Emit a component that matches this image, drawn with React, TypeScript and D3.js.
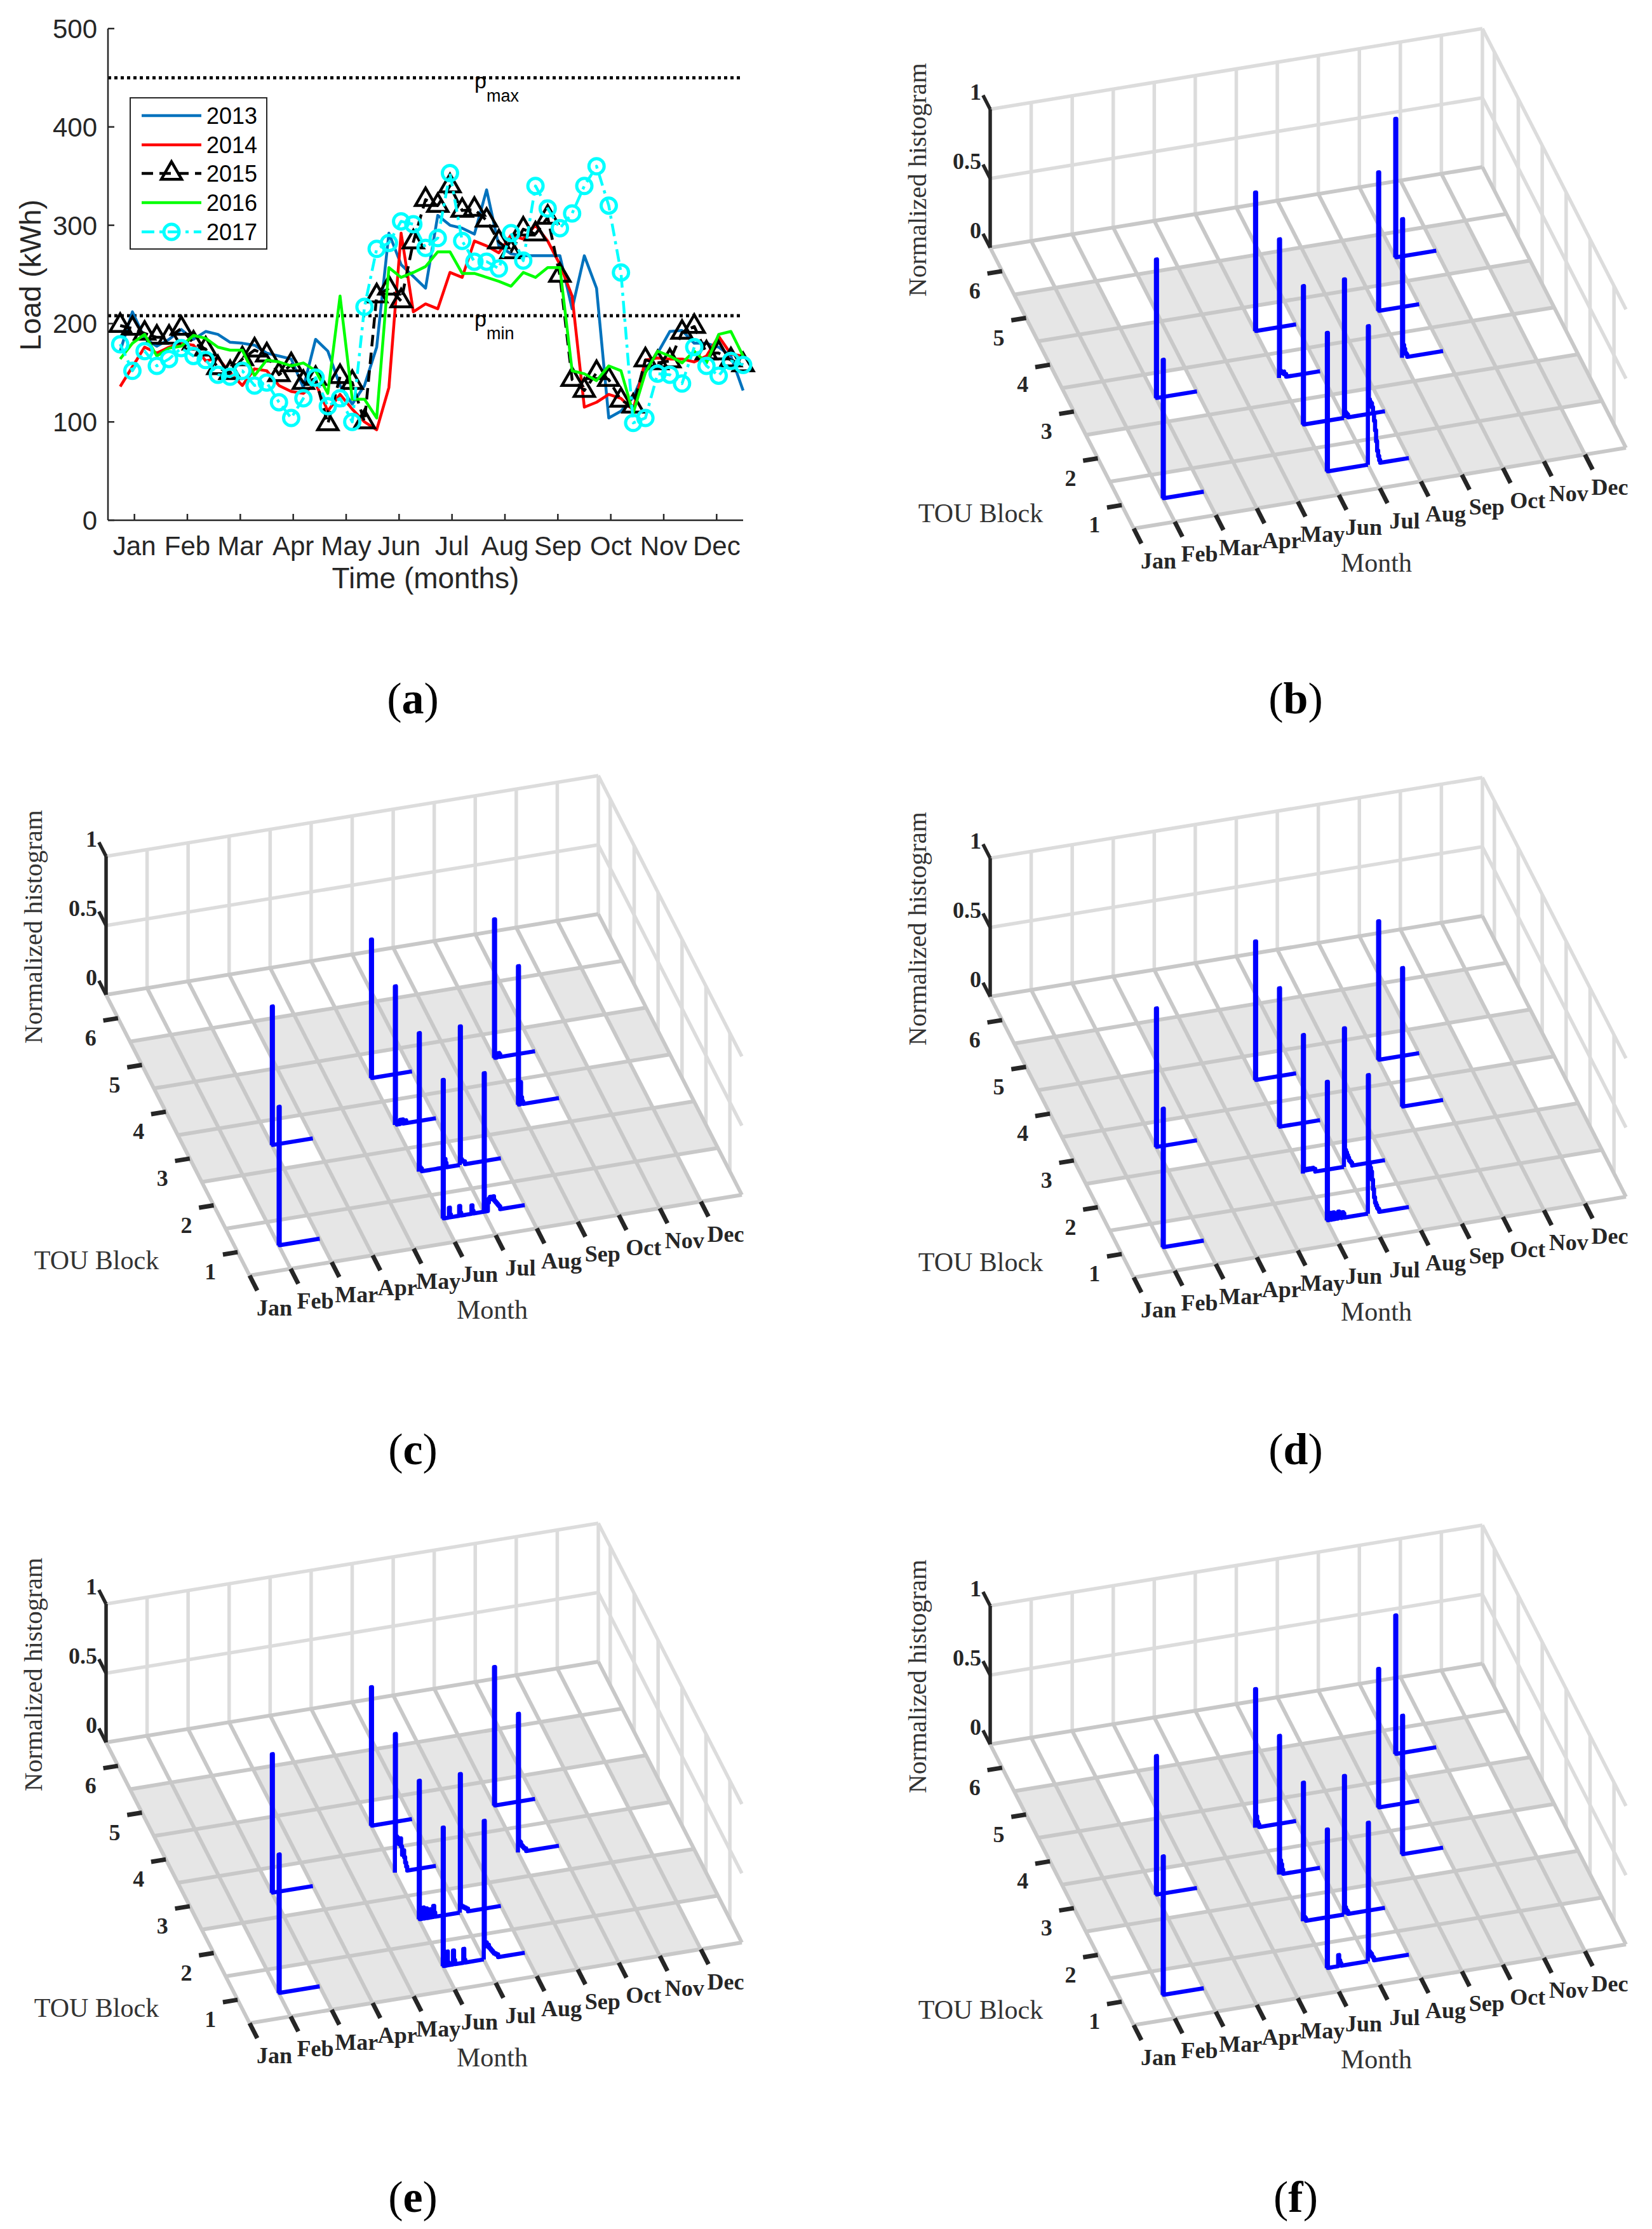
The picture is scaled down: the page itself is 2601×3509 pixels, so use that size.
import React, { useEffect } from 'react';
import * as d3 from 'd3';

// ---------- panel (a): weekly load per year (kWh) ----------
const MONTHS = ['Jan', 'Feb', 'Mar', 'Apr', 'May', 'Jun', 'Jul', 'Aug', 'Sep', 'Oct', 'Nov', 'Dec'];
const LOAD_TICKS = [0, 100, 200, 300, 400, 500];
const P_MAX = 450;
const P_MIN = 208;

const load2013 = [172, 212, 185, 177, 184, 194, 184, 192, 189, 181, 180, 178, 170, 167, 164, 135, 184, 172, 137, 118, 137, 176, 292, 260, 248, 236, 310, 300, 297, 291, 336, 279, 271, 269, 269, 269, 269, 215, 269, 236, 104, 111, 125, 154, 170, 192, 193, 180, 180, 176, 167, 132];
const load2014 = [136, 156, 176, 170, 176, 180, 178, 162, 165, 150, 137, 154, 152, 137, 131, 129, 139, 111, 128, 113, 100, 92, 135, 292, 212, 220, 215, 252, 247, 284, 279, 272, 290, 286, 300, 284, 260, 228, 115, 120, 128, 124, 112, 163, 165, 164, 164, 161, 167, 187, 169, 167];
const load2015 = [198, 195, 190, 186, 186, 195, 180, 174, 155, 150, 164, 173, 168, 148, 158, 140, 144, 98, 146, 140, 100, 228, 236, 223, 283, 326, 320, 340, 315, 316, 305, 283, 273, 296, 291, 308, 249, 143, 132, 150, 143, 122, 116, 163, 160, 162, 191, 197, 170, 170, 163, 158];
const load2016 = [164, 180, 189, 167, 175, 177, 188, 185, 176, 173, 173, 147, 163, 161, 157, 160, 152, 129, 228, 123, 123, 104, 257, 247, 252, 258, 273, 273, 251, 251, 247, 243, 238, 252, 247, 257, 257, 152, 149, 142, 157, 152, 109, 150, 172, 167, 160, 172, 160, 189, 192, 167];
const load2017 = [179, 152, 172, 157, 164, 175, 167, 163, 148, 146, 152, 137, 140, 120, 104, 124, 145, 116, 124, 100, 217, 276, 282, 304, 301, 277, 287, 353, 284, 263, 263, 256, 292, 264, 340, 317, 297, 312, 340, 360, 320, 252, 99, 104, 149, 148, 139, 176, 157, 147, 162, 158];

const SERIES = [
  { name: '2013', values: load2013, color: '#0072BD', dash: null, marker: null },
  { name: '2014', values: load2014, color: '#FF0000', dash: null, marker: null },
  { name: '2015', values: load2015, color: '#000000', dash: '18 10', marker: 'triangle' },
  { name: '2016', values: load2016, color: '#00FF00', dash: null, marker: null },
  { name: '2017', values: load2017, color: '#00FFFF', dash: '20 8 5 8', marker: 'circle' },
];

// ---------- panels (b)-(f): normalized histograms per month / TOU block ----------
const TOU_BLOCKS = [1, 2, 3, 4, 5, 6];
const HIST_TICKS = [0, 0.5, 1];

// shaded floor cells (1 = grey), one row per TOU block, Jan..Dec
const FLOOR_TOU1 = [0, 0, 1, 1, 1, 0, 0, 1, 1, 1, 1, 0];
const FLOOR_TOU2 = [0, 1, 1, 1, 1, 0, 0, 1, 1, 1, 1, 1];
const FLOOR_TOU3 = [1, 1, 0, 1, 1, 0, 1, 1, 0, 1, 1, 0];
const FLOOR_TOU4 = [1, 1, 1, 1, 1, 0, 1, 1, 0, 1, 0, 1];
const FLOOR_TOU5 = [1, 1, 0, 1, 1, 1, 1, 1, 1, 0, 1, 0];
const FLOOR_TOU6 = [0, 0, 0, 0, 0, 0, 0, 0, 0, 0, 0, 0];
const FLOOR = [FLOOR_TOU1, FLOOR_TOU2, FLOOR_TOU3, FLOOR_TOU4, FLOOR_TOU5, FLOOR_TOU6];

// bin width as a fraction of one month cell
const BIN = 1 / 40;

const HIST_B = [
  { month: 2, tou: 1, bins: [1] },
  { month: 3, tou: 3, bins: [1] },
  { month: 6, tou: 4, bins: [1] },
  { month: 6, tou: 3, bins: [1, 0.05, 0.04, 0.03, 0.04, 0.02, 0.02] },
  { month: 6, tou: 2, bins: [1] },
  { month: 6, tou: 1, bins: [1] },
  { month: 7, tou: 2, bins: [1, 0.04, 0.03, 0.02] },
  { month: 7, tou: 1, bins: [1, 0.47, 0.45, 0.44, 0.41, 0.37, 0.31, 0.24, 0.16, 0.09, 0.05, 0.02] },
  { month: 9, tou: 4, bins: [1] },
  { month: 9, tou: 3, bins: [1, 0.09, 0.06, 0.03, 0.02] },
  { month: 10, tou: 5, bins: [1] },
];

const HIST_C = [
  { month: 2, tou: 1, bins: [1] },
  { month: 3, tou: 3, bins: [1] },
  { month: 6, tou: 4, bins: [1] },
  { month: 6, tou: 3, bins: [1, 0.02, 0, 0, 0, 0.03, 0.02, 0.03, 0, 0, 0.02] },
  { month: 6, tou: 2, bins: [1, 0.03, 0.02, 0, 0, 0, 0, 0, 0, 0, 0, 0, 0, 0, 0, 0, 0, 0, 0, 0, 0, 0, 0, 0, 0.05, 0.06, 0.03] },
  { month: 6, tou: 1, bins: [1, 0, 0, 0, 0, 0, 0.07, 0.02, 0, 0, 0, 0, 0, 0, 0, 0, 0.07, 0.02, 0, 0, 0, 0, 0, 0, 0, 0, 0, 0, 0.06, 0.02] },
  { month: 7, tou: 2, bins: [1, 0.04, 0.03, 0.02, 0.02] },
  { month: 7, tou: 1, bins: [1, 0, 0, 0, 0.06, 0.09, 0.1, 0.09, 0.08, 0.1, 0.07, 0.06, 0.05, 0.04, 0.03, 0.02] },
  { month: 9, tou: 4, bins: [1, 0, 0, 0.02, 0.03, 0.02] },
  { month: 9, tou: 3, bins: [1, 0, 0.16, 0.05, 0.02] },
];

const HIST_D = [
  { month: 2, tou: 1, bins: [1] },
  { month: 3, tou: 3, bins: [1] },
  { month: 6, tou: 4, bins: [1] },
  { month: 6, tou: 3, bins: [1] },
  { month: 6, tou: 2, bins: [1, 0.02, 0.03, 0.02, 0.03, 0.02, 0.03, 0.02, 0.02, 0.03, 0.02, 0.02] },
  { month: 6, tou: 1, bins: [1, 0, 0.04, 0.05, 0, 0.03, 0.05, 0, 0.04, 0.03, 0, 0.05, 0.04, 0.03, 0, 0.04, 0.03] },
  { month: 7, tou: 2, bins: [1, 0.12, 0.1, 0.08, 0.06, 0.04, 0.03, 0.02] },
  { month: 7, tou: 1, bins: [1, 0.35, 0.33, 0.3, 0.24, 0.17, 0.11, 0.07, 0.05, 0.03, 0.02] },
  { month: 9, tou: 4, bins: [1] },
  { month: 9, tou: 3, bins: [1] },
];

const HIST_E = [
  { month: 2, tou: 1, bins: [1] },
  { month: 3, tou: 3, bins: [1] },
  { month: 6, tou: 4, bins: [1] },
  { month: 6, tou: 3, bins: [1, 0.26, 0.25, 0.22, 0.2, 0.24, 0.18, 0.12, 0.15, 0.1, 0.06, 0.03] },
  { month: 6, tou: 2, bins: [1, 0, 0, 0.06, 0.08, 0, 0.05, 0.07, 0, 0, 0.06, 0.04, 0, 0, 0.08, 0.03] },
  { month: 6, tou: 1, bins: [1, 0, 0, 0, 0.1, 0.02, 0, 0, 0, 0, 0.1, 0.03, 0, 0, 0, 0, 0, 0, 0, 0, 0.1, 0.02] },
  { month: 7, tou: 2, bins: [1, 0.05, 0.04, 0.04, 0.03, 0.03, 0.02, 0.02] },
  { month: 7, tou: 1, bins: [1, 0.1, 0.12, 0.09, 0.1, 0.08, 0.07, 0.06, 0.05, 0.04, 0.03, 0.03, 0.02, 0.02] },
  { month: 9, tou: 4, bins: [1] },
  { month: 9, tou: 3, bins: [1, 0.08, 0.07, 0.05, 0.04, 0.03, 0.02, 0.02] },
];

const HIST_F = [
  { month: 2, tou: 1, bins: [1] },
  { month: 3, tou: 3, bins: [1] },
  { month: 6, tou: 4, bins: [1, 0.08, 0.04, 0.02] },
  { month: 6, tou: 3, bins: [1, 0.1, 0.07, 0.03] },
  { month: 6, tou: 2, bins: [1, 0.03, 0.02] },
  { month: 6, tou: 1, bins: [1, 0, 0, 0, 0, 0, 0, 0, 0, 0, 0, 0.08, 0.04, 0.02] },
  { month: 7, tou: 2, bins: [1, 0.05, 0.03, 0.02] },
  { month: 7, tou: 1, bins: [1, 0.07, 0.06, 0.05, 0.03, 0.02] },
  { month: 9, tou: 4, bins: [1] },
  { month: 9, tou: 3, bins: [1] },
  { month: 10, tou: 5, bins: [1] },
];

const SANS = '"Liberation Sans", Arial, Helvetica, sans-serif';
const SERIF = '"Liberation Serif", "Times New Roman", serif';
const AX = '#262626';

// ---------- panel (a) ----------
const xLoad = d3.scaleLinear().domain([0, 12]).range([170, 1170]);
const yLoad = d3.scaleLinear().domain([0, 500]).range([819, 45]);
const weekPos = (i: number) => xLoad(((i + 1) * 12) / 52);

const triPath = d3.symbol().type(d3.symbolTriangle).size(443)();

function Marker({ kind, x, y, color }) {
  if (kind === 'triangle') {
    return <path d={triPath} transform={`translate(${x},${y})`} fill="none" stroke={color} strokeWidth={4.5} strokeLinejoin="miter" />;
  }
  if (kind === 'circle') {
    return <circle cx={x} cy={y} r={12} fill="none" stroke={color} strokeWidth={5} />;
  }
  return null;
}

function LoadPanel() {
  const line = d3.line<number>().x((_, i) => weekPos(i)).y((v) => yLoad(v));
  const legendY = [182, 228, 273, 319, 365];
  return (
    <g>
      {/* reference levels */}
      {[P_MAX, P_MIN].map((p) => (
        <line key={p} x1={xLoad(0)} x2={xLoad(12)} y1={yLoad(p)} y2={yLoad(p)} stroke="#000" strokeWidth={5} strokeDasharray="5 5" />
      ))}
      <text x={747} y={yLoad(P_MAX) + 17} fontFamily={SANS} fontSize={34} fill="#000">
        p<tspan fontSize={27} dy={21}>max</tspan>
      </text>
      <text x={747} y={yLoad(P_MIN) + 17} fontFamily={SANS} fontSize={34} fill="#000">
        p<tspan fontSize={27} dy={20}>min</tspan>
      </text>

      {/* series */}
      {SERIES.map((s) => (
        <g key={s.name}>
          <path d={line(s.values) || ''} fill="none" stroke={s.color} strokeWidth={4.5} strokeDasharray={s.dash || undefined} strokeLinejoin="round" />
          {s.marker && s.values.map((v, i) => <Marker key={i} kind={s.marker} x={weekPos(i)} y={yLoad(v)} color={s.color} />)}
        </g>
      ))}

      {/* axes */}
      <line x1={170} x2={170} y1={yLoad(500)} y2={yLoad(0)} stroke={AX} strokeWidth={2.5} />
      <line x1={170} x2={1170} y1={yLoad(0)} y2={yLoad(0)} stroke={AX} strokeWidth={2.5} />
      {LOAD_TICKS.map((t) => (
        <g key={t}>
          <line x1={170} x2={180} y1={yLoad(t)} y2={yLoad(t)} stroke={AX} strokeWidth={2.5} />
          <text x={153} y={yLoad(t) + 15} textAnchor="end" fontFamily={SANS} fontSize={42} fill={AX}>{t}</text>
        </g>
      ))}
      {MONTHS.map((m, i) => (
        <g key={m}>
          <line x1={xLoad(i + 0.5)} x2={xLoad(i + 0.5)} y1={yLoad(0)} y2={yLoad(0) - 10} stroke={AX} strokeWidth={2.5} />
          <text x={xLoad(i + 0.5)} y={874} textAnchor="middle" fontFamily={SANS} fontSize={42} fill={AX}>{m}</text>
        </g>
      ))}
      <text x={670} y={926} textAnchor="middle" fontFamily={SANS} fontSize={46} fill={AX}>Time (months)</text>
      <text transform="translate(64,433) rotate(-90)" textAnchor="middle" fontFamily={SANS} fontSize={46} fill={AX}>Load (kWh)</text>

      {/* legend */}
      <rect x={205} y={154} width={215} height={238} fill="#fff" stroke={AX} strokeWidth={2} />
      {SERIES.map((s, i) => (
        <g key={s.name}>
          <line x1={223} x2={317} y1={legendY[i]} y2={legendY[i]} stroke={s.color} strokeWidth={4.5} strokeDasharray={s.dash || undefined} />
          {s.marker && <Marker kind={s.marker} x={270} y={legendY[i]} color={s.color} />}
          <text x={325} y={legendY[i] + 13} fontFamily={SANS} fontSize={36} fill="#000">{s.name}</text>
        </g>
      ))}
    </g>
  );
}

// ---------- panels (b)-(f) ----------
// oblique projection of (month, TOU block, value) onto the page
const monthDX = d3.scaleLinear().domain([1, 13]).range([0, 775]);
const monthDY = d3.scaleLinear().domain([1, 13]).range([0, -127]);
const touDX = d3.scaleLinear().domain([0.5, 6.5]).range([0, -226]);
const touDY = d3.scaleLinear().domain([0.5, 6.5]).range([0, -442]);
const zDY = d3.scaleLinear().domain([0, 1]).range([0, -218]);
const MONTH_LINES = d3.range(1, 14);
const TOU_LINES = [0.5, 1.5, 2.5, 3.5, 4.5, 5.5, 6.5];

function HistPanel({ ox, oy, hists }) {
  const P = (mo: number, tou: number, z = 0): [number, number] => [
    ox + monthDX(mo) + touDX(tou),
    oy + monthDY(mo) + touDY(tou) + zDY(z),
  ];
  const path = d3.line();
  const seg = (a, b) => path([a, b]) || '';

  const histPath = (h) => {
    const pts = [P(h.month, h.tou, 0)];
    h.bins.forEach((v, i) => {
      pts.push(P(h.month + i * BIN, h.tou, v));
      pts.push(P(h.month + (i + 1) * BIN, h.tou, v));
    });
    pts.push(P(h.month + h.bins.length * BIN, h.tou, 0));
    pts.push(P(h.month + 1, h.tou, 0));
    return path(pts) || '';
  };

  const wall = '#dcdcdc';
  const grid = '#c8c8c8';

  return (
    <g>
      {/* back wall */}
      {MONTH_LINES.slice(1).map((mo) => (
        <path key={'bw' + mo} d={seg(P(mo, 6.5, 0), P(mo, 6.5, 1))} stroke={wall} strokeWidth={5.5} fill="none" />
      ))}
      {[0.5, 1].map((z) => (
        <path key={'bh' + z} d={seg(P(1, 6.5, z), P(13, 6.5, z))} stroke={wall} strokeWidth={5.5} fill="none" />
      ))}
      {/* right wall */}
      {TOU_BLOCKS.map((t) => (
        <path key={'rw' + t} d={seg(P(13, t, 0), P(13, t, 1))} stroke={wall} strokeWidth={5.5} fill="none" />
      ))}
      {[0.5, 1].map((z) => (
        <path key={'rh' + z} d={seg(P(13, 0.5, z), P(13, 6.5, z))} stroke={wall} strokeWidth={5.5} fill="none" />
      ))}

      {/* floor */}
      {FLOOR.map((row, r) =>
        row.map((g, c) => {
          const t = TOU_BLOCKS[r];
          const mo = c + 1;
          const d = (path([P(mo, t - 0.5), P(mo + 1, t - 0.5), P(mo + 1, t + 0.5), P(mo, t + 0.5)]) || '') + 'Z';
          return <path key={'f' + r + '-' + c} d={d} fill={g ? '#e6e6e6' : '#ffffff'} stroke="none" />;
        })
      )}
      {MONTH_LINES.map((mo) => (
        <path key={'fm' + mo} d={seg(P(mo, 0.5), P(mo, 6.5))} stroke={grid} strokeWidth={6} fill="none" />
      ))}
      {TOU_LINES.map((t) => (
        <path key={'ft' + t} d={seg(P(1, t), P(13, t))} stroke={grid} strokeWidth={6} fill="none" />
      ))}

      {/* z axis */}
      <path d={seg(P(1, 6.5, 0), P(1, 6.5, 1))} stroke={AX} strokeWidth={5.5} fill="none" />
      {HIST_TICKS.map((z) => {
        const [x, y] = P(1, 6.5, z);
        return (
          <g key={'zt' + z}>
            <path d={seg(P(1, 6.5, z), P(1, 6.8, z))} stroke={AX} strokeWidth={5.5} fill="none" />
            <text x={x - 14} y={y - 15} textAnchor="end" fontFamily={SERIF} fontWeight="bold" fontSize={36} fill={AX}>{z}</text>
          </g>
        );
      })}

      {/* TOU axis ticks */}
      {TOU_BLOCKS.map((t) => {
        const [x, y] = P(1, t);
        return (
          <g key={'tt' + t}>
            <path d={seg(P(1, t), P(0.64, t))} stroke={AX} strokeWidth={7} fill="none" />
            <text x={x - 43} y={y + 43} textAnchor="middle" fontFamily={SERIF} fontWeight="bold" fontSize={36} fill={AX}>{t}</text>
          </g>
        );
      })}

      {/* month axis ticks */}
      {MONTHS.map((m, i) => {
        const [x, y] = P(i + 1, 0.5);
        return (
          <g key={'mt' + m}>
            <path d={seg(P(i + 1, 0.5), P(i + 1, 0.18))} stroke={AX} strokeWidth={7} fill="none" />
            <text x={x + 39} y={y + 63} textAnchor="middle" fontFamily={SERIF} fontWeight="bold" fontSize={36} fill={AX}>{m}</text>
          </g>
        );
      })}

      {/* histograms */}
      {hists.map((h, i) => (
        <path key={'h' + i} d={histPath(h)} fill="none" stroke="#0000FF" strokeWidth={6.5} strokeLinejoin="round" />
      ))}

      {/* axis labels */}
      <text transform={`translate(${ox - 327},${oy - 549}) rotate(-90)`} textAnchor="middle" fontFamily={SERIF} fontSize={41} fill="#333">Normalized histogram</text>
      <text x={ox - 241} y={oy - 10} textAnchor="middle" fontFamily={SERIF} fontSize={42} fill="#333">TOU Block</text>
      <text x={ox + 382} y={oy + 68} textAnchor="middle" fontFamily={SERIF} fontSize={42} fill="#333">Month</text>
    </g>
  );
}

function Caption({ x, y, letter }) {
  return (
    <text x={x} y={y} textAnchor="middle" fontFamily={SERIF} fontSize={70} fill="#000">
      (<tspan fontWeight="bold">{letter}</tspan>)
    </text>
  );
}

export default function App() {
  useEffect(() => {
    document.body.style.margin = '0';
  }, []);
  return (
    <svg width={2601} height={3509} viewBox="0 0 2601 3509" style={{ position: 'absolute', left: 0, top: 0, display: 'block' }}>
      <rect width={2601} height={3509} fill="#fff" />
      <LoadPanel />
      <HistPanel ox={1785} oy={832} hists={HIST_B} />
      <HistPanel ox={393} oy={2008} hists={HIST_C} />
      <HistPanel ox={1785} oy={2011} hists={HIST_D} />
      <HistPanel ox={393} oy={3185} hists={HIST_E} />
      <HistPanel ox={1785} oy={3188} hists={HIST_F} />
      <Caption x={650} y={1123} letter="a" />
      <Caption x={2040} y={1123} letter="b" />
      <Caption x={650} y={2305} letter="c" />
      <Caption x={2040} y={2305} letter="d" />
      <Caption x={650} y={3482} letter="e" />
      <Caption x={2040} y={3482} letter="f" />
    </svg>
  );
}
